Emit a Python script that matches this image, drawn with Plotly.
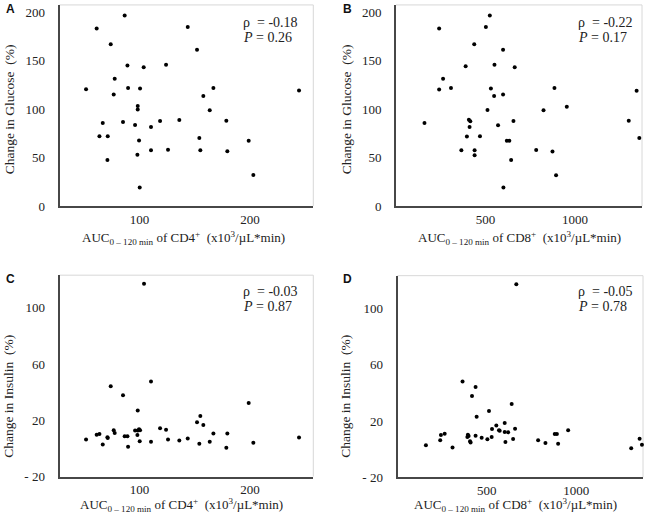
import plotly.graph_objects as go

W, H = 656, 517

# ---- data ----
cd4_a = [51.8, 61.4, 63.9, 66.9, 71.1, 71.4, 74.1, 76.8, 77.7, 85.2, 86.7, 89.2, 89.8,
         96.1, 98.5, 98.5, 98.2, 99.7, 100.3, 100.6, 103.9, 110.5, 110.5, 118.7, 124.1,
         125.9, 136.1, 143.7, 152.1, 154.2, 155.1, 157.8, 163.6, 166.9, 178.6, 179.5,
         198.8, 203.0, 244.3]
glucose_a = [120.7, 183.4, 72.2, 85.8, 47.5, 72.2, 167.1, 115.3, 131.5, 86.8, 196.9, 145.1,
             122.0, 83.7, 103.4, 99.7, 52.9, 67.8, 19.3, 121.4, 143.4, 81.7, 57.6, 87.8,
             146.1, 58.3, 88.8, 185.1, 161.4, 70.2, 57.6, 113.6, 99.0, 122.0, 88.1, 56.6,
             67.5, 32.2, 119.3]

cd4_c = [51.8, 61.4, 63.9, 66.9, 71.1, 71.4, 74.1, 76.8, 77.7, 85.2, 86.7, 89.2, 89.8,
         96.1, 98.5, 98.2, 98.5, 99.7, 100.3, 100.6, 104.2, 110.5, 110.5, 118.7, 124.1,
         125.9, 136.1, 143.7, 152.1, 154.2, 155.1, 157.8, 163.6, 166.9, 178.6, 179.5,
         198.8, 203.0, 244.3]
insulin_c = [6.3, 9.8, 10.2, 2.8, 7.9, 7.4, 44.2, 13.0, 10.9, 37.9, 8.6, 8.6, 1.2, 12.8,
             27.0, 9.5, 12.8, 13.7, 5.1, 13.0, 117.2, 47.7, 4.7, 14.4, 13.3, 6.3, 5.6, 7.0,
             18.6, 3.3, 23.0, 16.7, 4.7, 10.7, 0.5, 10.7, 32.3, 4.0, 7.7]

cd8_b = [159, 241, 241, 263, 307, 365, 389, 396, 407, 411, 415, 437, 439, 439, 469, 502,
         511, 524, 530, 550, 548, 570, 598, 598, 600, 619, 633, 643, 656, 663, 783, 824,
         874, 885, 894, 954, 1300, 1344, 1359]
glucose_b = [85.8, 183.4, 120.3, 131.5, 122.0, 57.6, 144.4, 71.9, 89.2, 81.7, 87.5, 167.1,
             57.6, 52.5, 72.2, 185.1, 99.3, 196.9, 121.4, 146.1, 113.6, 83.4, 161.4, 115.3,
             19.3, 67.5, 67.5, 47.5, 87.8, 143.4, 58.0, 99.0, 56.3, 122.0, 31.9, 102.7, 88.1,
             119.0, 70.2]

cd8_d = [159, 239, 243, 264, 308, 364, 391, 394, 398, 406, 409, 417, 437, 437, 443, 471,
         503, 512, 527, 529, 553, 568, 572, 600, 604, 600, 619, 639, 647, 658, 665, 787,
         828, 880, 892, 899, 955, 1308, 1355, 1368]
insulin_d = [2.8, 6.3, 10.0, 10.9, 1.2, 48.1, 8.6, 10.2, 9.3, 5.6, 4.7, 37.7, 44.2, 9.5,
             23.0, 8.1, 7.0, 27.0, 8.6, 14.2, 16.7, 13.3, 13.0, 18.6, 5.1, 12.1, 11.9, 32.1,
             7.2, 14.4, 117.2, 6.3, 4.4, 10.7, 10.7, 3.7, 13.3, 0.5, 7.4, 3.0]

glucose_ticks = [0, 50, 100, 150, 200]
insulin_ticks = [-20, 20, 60, 100]
insulin_ticktext = ["- 20", "20", "60", "100"]
cd4_ticks = [100, 200]
cd8_ticks = [500, 1000]

stats = [("A", "-0.18", "0.26"), ("B", "-0.22", "0.17"),
         ("C", "-0.03", "0.87"), ("D", "-0.05", "0.78")]

# ---- layout helpers ----
def px(x):
    return x / W

def py(y):
    return 1 - y / H

SERIF = "Liberation Serif, Times New Roman, serif"
SANS = "Liberation Sans, Arial, sans-serif"

# plot boxes in pixels: (left, right, top, bottom)
boxes = {
    "A": (59.5, 313.3, 5, 209.3),
    "B": (396, 642, 5, 209.3),
    "C": (59.5, 313.3, 279.5, 484),
    "D": (397.5, 643, 280, 484.7),
}

fig = go.Figure()
panels = [
    ("A", cd4_a, glucose_a, "x", "y"),
    ("B", cd8_b, glucose_b, "x2", "y2"),
    ("C", cd4_c, insulin_c, "x3", "y3"),
    ("D", cd8_d, insulin_d, "x4", "y4"),
]
for name, xs, ys, xa, ya in panels:
    fig.add_trace(go.Scatter(x=xs, y=ys, mode="markers", xaxis=xa, yaxis=ya,
                             marker=dict(color="black", size=4), showlegend=False,
                             cliponaxis=False))

axis_common = dict(showgrid=False, zeroline=False, ticks="", showline=True,
                   linecolor="#474747", linewidth=2,
                   tickfont=dict(family=SERIF, size=13, color="#222"))

x_ranges = {"A": [27.8, 257.2], "B": [0, 1374], "C": [27.8, 257.2], "D": [0, 1374]}
y_ranges = {"A": [0, 207.8], "B": [0, 207.8], "C": [-20, 123.3], "D": [-20, 123.3]}

layout = dict(width=W, height=H, margin=dict(l=0, r=0, t=0, b=0),
              plot_bgcolor="rgba(0,0,0,0)", paper_bgcolor="white")
for i, (name, *_rest) in enumerate(panels):
    l, r, t, b = boxes[name]
    sfx = "" if i == 0 else str(i + 1)
    xt = cd4_ticks if name in "AC" else cd8_ticks
    if name in "AB":
        yax = dict(tickvals=glucose_ticks, ticktext=[str(v) for v in glucose_ticks])
    else:
        yax = dict(tickvals=insulin_ticks, ticktext=insulin_ticktext)
    layout["xaxis" + sfx] = dict(axis_common, domain=[px(l), px(r)], range=x_ranges[name],
                                 tickvals=xt, anchor="y" + sfx, ticklabelstandoff=0)
    layout["yaxis" + sfx] = dict(axis_common, domain=[py(b), py(t)], range=y_ranges[name],
                                 anchor="x" + sfx, ticklabelstandoff=10, **yax)
fig.update_layout(**layout)

# light frame on top/right
shapes = []
for name, (l, r, t, b) in boxes.items():
    shapes.append(dict(type="line", xref="paper", yref="paper",
                       x0=px(l), y0=py(t), x1=px(r), y1=py(t),
                       line=dict(color="#d8d8d8", width=1), layer="below"))
    shapes.append(dict(type="line", xref="paper", yref="paper",
                       x0=px(r), y0=py(t), x1=px(r), y1=py(b),
                       line=dict(color="#d8d8d8", width=1), layer="below"))
fig.update_layout(shapes=shapes)

ann = []
# panel letters
letter_pos = {"A": (10, 9), "B": (347, 9), "C": (10, 283), "D": (347, 283)}
for k, (x, y) in letter_pos.items():
    ann.append(dict(text=f"<b>{k}</b>", x=px(x), y=py(y), xref="paper", yref="paper",
                    showarrow=False, xanchor="center", yanchor="middle",
                    font=dict(family=SANS, size=12, color="#111")))

# y-axis titles
ytitles = [("Change in Glucose  (%)", 9, 111), ("Change in Glucose  (%)", 346, 111),
           ("Change in Insulin  (%)", 9, 403), ("Change in Insulin  (%)", 346, 403)]
for txt, x, y in ytitles:
    ann.append(dict(text=txt, x=px(x), y=py(y), xref="paper", yref="paper", showarrow=False,
                    textangle=-90, xanchor="center", yanchor="middle",
                    font=dict(family=SERIF, size=13.5, color="#222")))

# x-axis titles
xt4 = "AUC<sub>0 – 120 min</sub> of CD4<sup>+</sup>  (x10<sup>3</sup>/µL*min)"
xt8 = "AUC<sub>0 – 120 min</sub> of CD8<sup>+</sup>  (x10<sup>3</sup>/µL*min)"
xtitles = [(xt4, 183, 242), (xt8, 519, 242), (xt4, 181, 513), (xt8, 515, 513)]
for txt, x, y in xtitles:
    ann.append(dict(text=txt, x=px(x), y=py(y), xref="paper", yref="paper", showarrow=False,
                    xanchor="center", yanchor="middle",
                    font=dict(family=SERIF, size=13, color="#222")))

# correlation stats
stat_pos = {"A": (241, 23), "B": (576, 23), "C": (241, 296), "D": (576, 296)}
for name, rho, p in stats:
    x, y = stat_pos[name]
    ann.append(dict(text=f"ρ  = {rho}", x=px(x), y=py(y), xref="paper", yref="paper",
                    showarrow=False, xanchor="left", yanchor="middle",
                    font=dict(family=SERIF, size=14, color="#222")))
    ann.append(dict(text=f"<i>P</i> = {p}", x=px(x), y=py(y + 15.5), xref="paper",
                    yref="paper", showarrow=False, xanchor="left", yanchor="middle",
                    font=dict(family=SERIF, size=14, color="#222")))
fig.update_layout(annotations=ann)

fig.write_html("out.html", config={"displayModeBar": False},
               post_script="document.body.style.margin='0';document.body.style.padding='0';")
